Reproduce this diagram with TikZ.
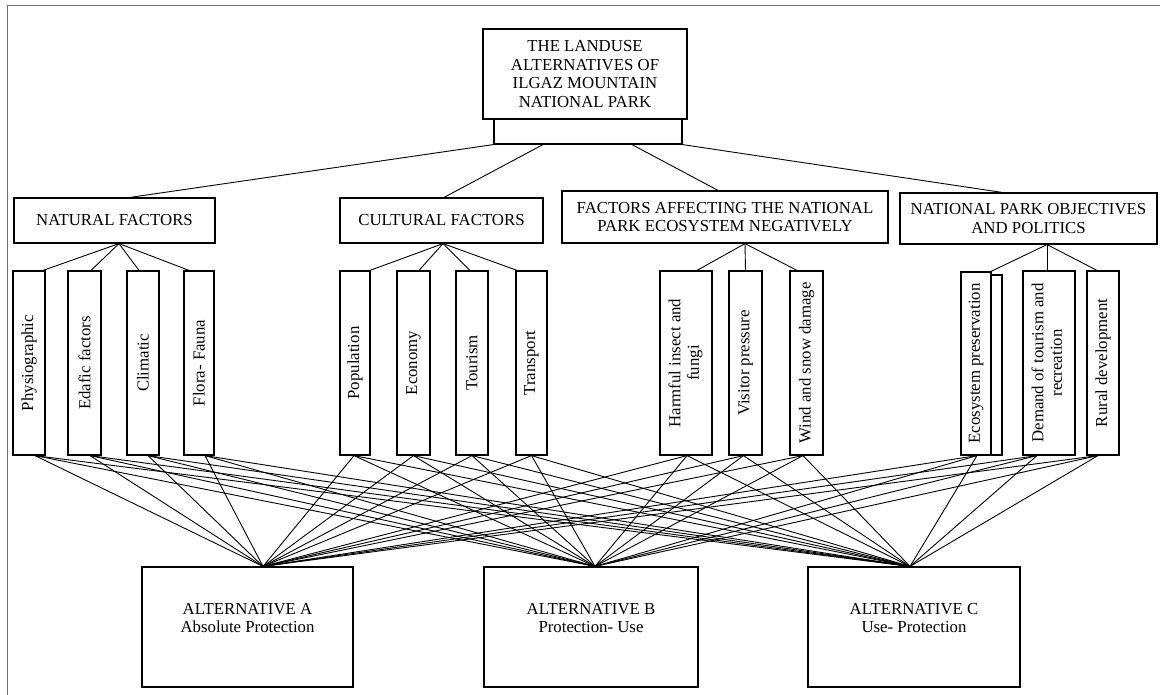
\documentclass[tikz,border=0pt]{standalone}
\usepackage{fontspec}
\setmainfont{Liberation Serif}
\usepackage{graphicx}
\usetikzlibrary{calc}
\begin{document}
\begin{tikzpicture}[x=1pt,y=-1pt,
  font=\fontsize{16.8}{18.5}\selectfont,
  box/.style={draw,line width=1.2pt,inner sep=0pt,align=center},
  kid/.style={box,minimum height=184pt},
  alt/.style={box,minimum height=120pt},
  conn/.style={line width=0.9pt},
  frame/.style={draw=black!55,line width=0.8pt}]
\useasboundingbox (0,0) rectangle (1160,695);
\coordinate (f1) at (7,695);
\coordinate (f2) at (7,5);
\coordinate (f3) at (1160,5);
\draw[frame] (f1) -- (f2) -- (f3);

% top
\node[box,minimum width=204pt,minimum height=90pt] (top) at (585,74)
  {THE LANDUSE\\ALTERNATIVES OF\\ILGAZ MOUNTAIN\\NATIONAL PARK};
\node[box,minimum width=188pt,minimum height=25pt] (base) at (588,131.5) {};

% factor groups
\node[box,minimum width=201pt,minimum height=45pt] (nat) at (114.5,220.5) {NATURAL FACTORS};
\node[box,minimum width=203pt,minimum height=45pt] (cul) at (441.5,220.5) {CULTURAL FACTORS};
\node[box,minimum width=326pt,minimum height=52pt] (fac) at (725,217)
  {FACTORS AFFECTING THE NATIONAL\\PARK ECOSYSTEM NEGATIVELY};
\node[box,minimum width=257pt,minimum height=51pt] (npo) at (1028.5,218.5)
  {NATIONAL PARK OBJECTIVES\\AND POLITICS};

% sub factors
\node[kid,minimum width=32pt] (phy) at (29,363) {\rotatebox{90}{Physiographic}};
\node[kid,minimum width=33pt] (eda) at (84.5,363) {\rotatebox{90}{Edafic factors}};
\node[kid,minimum width=32pt] (cli) at (143,363) {\rotatebox{90}{Climatic}};
\node[kid,minimum width=30pt] (flo) at (199,363) {\rotatebox{90}{Flora- Fauna}};
\node[kid,minimum width=30pt] (pop) at (355,363) {\rotatebox{90}{Population}};
\node[kid,minimum width=33pt] (eco) at (413.5,363) {\rotatebox{90}{Economy}};
\node[kid,minimum width=32pt] (tou) at (472,363) {\rotatebox{90}{Tourism}};
\node[kid,minimum width=31pt] (tra) at (531.5,363) {\rotatebox{90}{Transport}};
\node[kid,minimum width=52pt] (har) at (686,363)
  {\rotatebox{90}{\begin{tabular}{@{}c@{}}Harmful insect and\\fungi\end{tabular}}};
\node[kid,minimum width=33pt] (vis) at (745.5,363) {\rotatebox{90}{Visitor pressure}};
\node[kid,minimum width=33pt] (win) at (806.5,363) {\rotatebox{90}{Wind and snow damage}};
\node[box,minimum width=11pt,minimum height=180pt] (ecsx) at (996.5,365) {};
\node[box,minimum width=30pt,minimum height=183pt,fill=white] (ecs) at (976,363.5)
  {\rotatebox{90}{Ecosystem preservation}};
\node[kid,minimum width=52pt] (dem) at (1049,363)
  {\rotatebox{90}{\begin{tabular}{@{}c@{}}Demand of tourism and\\recreation\end{tabular}}};
\node[kid,minimum width=32pt] (rur) at (1103,363) {\rotatebox{90}{Rural development}};

% alternatives
\node[alt,minimum width=211pt] (A) at (247.5,627) {ALTERNATIVE A\\Absolute Protection\\\phantom{X}};
\node[alt,minimum width=214pt] (B) at (591,627) {ALTERNATIVE B\\Protection- Use\\\phantom{X}};
\node[alt,minimum width=212pt] (C) at (914,627) {ALTERNATIVE C\\Use- Protection\\\phantom{X}};

% top connectors
\draw[conn] (base.south west) -- ([xshift=15.5]nat.north);
\draw[conn] ([xshift=-45]base.south) -- ([xshift=2.5]cul.north);
\draw[conn] ([xshift=44]base.south) -- ([xshift=-7]fac.north);
\draw[conn] (base.south east) -- ([xshift=-26.5]npo.north);

% group to sub factors
\foreach \k/\s in {phy/14,eda/6.5,cli/-4,flo/-10}
  \draw[conn] ([xshift=4.5]nat.south) -- ([xshift=\s]\k.north);
\foreach \k/\s in {pop/15,eco/5.5,tou/-2,tra/-14.5}
  \draw[conn] ([xshift=1.5]cul.south) -- ([xshift=\s]\k.north);
\foreach \k/\s in {har/11,vis/0,win/-9.5}
  \draw[conn] ([xshift=20]fac.south) -- ([xshift=\s]\k.north);
\foreach \k/\s in {ecs/15,dem/-2,rur/-6}
  \draw[conn] ([xshift=18.5]npo.south) -- ([xshift=\s]\k.north);

% sub factors to alternatives
\foreach \k/\s in {phy/6,eda/5.5,cli/5,flo/6,pop/-1,eco/0,tou/0,tra/0,har/1,vis/-2,win/-3.5,ecs/1,dem/-12,rur/-5}
  \foreach \a/\t in {A/15.5,B/4,C/-4}
    \draw[conn] ([xshift=\s]\k.south) -- ([xshift=\t]\a.north);
\end{tikzpicture}
\end{document}
